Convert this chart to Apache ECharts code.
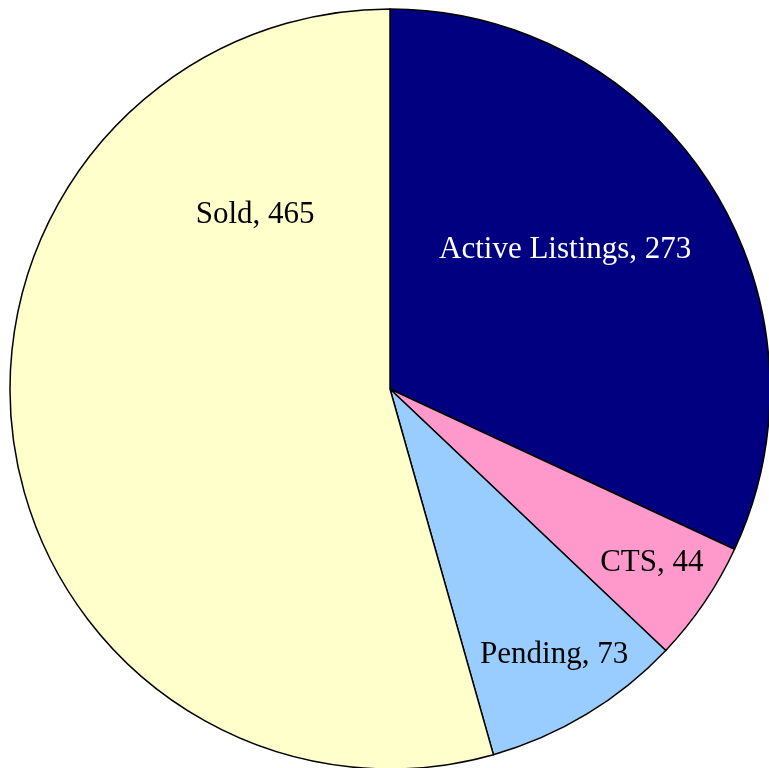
<!DOCTYPE html>
<html>
<head>
<meta charset="utf-8">
<script src="https://cdn.jsdelivr.net/npm/echarts@6/dist/echarts.min.js"></script>
<style>html,body{margin:0;padding:0;background:#fff;}#c{width:769px;height:768px;}</style>
</head>
<body>
<div id="c"></div>
<script>
// Data
var categories = ['Active Listings', 'CTS', 'Pending', 'Sold'];
var values = [273, 44, 73, 465];

// Styles
var colors = ['#000080', '#FF99CC', '#99CCFF', '#FFFFCC'];
var labelColors = ['#FFFFFF', '#000000', '#000000', '#000000'];
var CX = 390, CY = 389, R = 380;
// label anchor as fraction of radius (x, y) relative to pie center
var labelAnchors = [[0.461, -0.366], [0.689, 0.458], [0.432, 0.700], [-0.355, -0.458]];

var chart = echarts.init(document.getElementById('c'), null, {renderer: 'canvas'});
chart.setOption({
  animation: false,
  backgroundColor: '#ffffff',
  series: [{
    type: 'pie',
    center: [CX, CY],
    radius: R,
    startAngle: 90,
    clockwise: true,
    avoidLabelOverlap: false,
    emphasis: {disabled: true},
    itemStyle: {borderColor: '#000000', borderWidth: 1.5},
    label: {
      show: true,
      position: 'inside',
      fontFamily: '"Liberation Serif", "Times New Roman", serif',
      fontSize: 31,
      formatter: function (p) { return p.name + ', ' + p.value; }
    },
    labelLine: {show: false},
    labelLayout: function (params) {
      var a = labelAnchors[params.dataIndex];
      return {
        x: CX + a[0] * R,
        y: CY + a[1] * R,
        align: 'center',
        verticalAlign: 'middle'
      };
    },
    data: categories.map(function (name, i) {
      return {
        name: name,
        value: values[i],
        itemStyle: {color: colors[i]},
        label: {color: labelColors[i]}
      };
    })
  }]
});
</script>
</body>
</html>
